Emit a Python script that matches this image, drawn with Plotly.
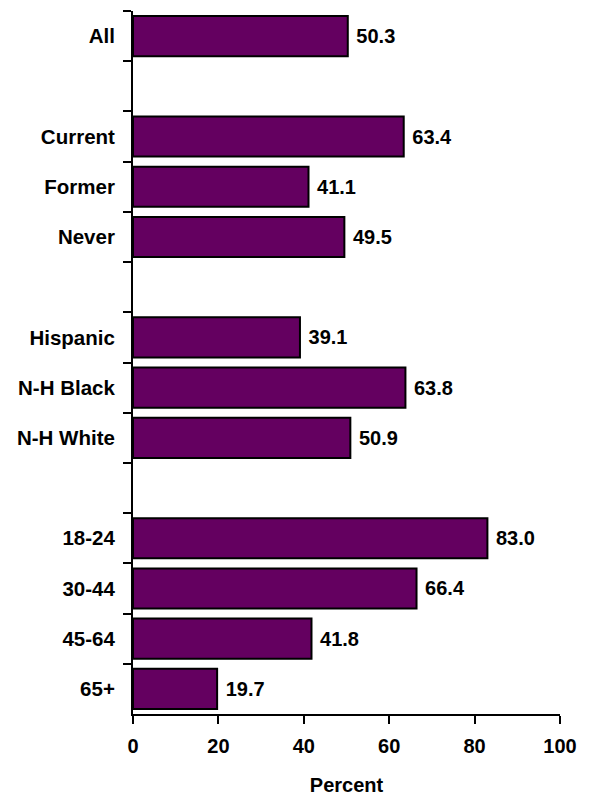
import plotly.graph_objects as go

categories = ["All", " ", "Current", "Former", "Never", "  ", "Hispanic", "N-H Black",
              "N-H White", "   ", "18-24", "30-44", "45-64", "65+"]
values = [50.3, None, 63.4, 41.1, 49.5, None, 39.1, 63.8, 50.9, None, 83.0, 66.4, 41.8, 19.7]
labels = [f"\u00a0{v:.1f}" if v is not None else "" for v in values]
x_ticks = [0, 20, 40, 60, 80, 100]

font_main = dict(family="Liberation Sans, Arial, sans-serif", size=20, color="black", weight="bold")
font_y = dict(font_main, size=20.5)

fig = go.Figure(go.Bar(
    x=values, y=categories, orientation="h",
    marker=dict(color="#640060", line=dict(color="black", width=2)),
    text=labels, textposition="outside", cliponaxis=False,
    textfont=font_main,
))

# page body has an 8px margin, so the figure is 8px smaller and margins compensate
fig.update_layout(
    width=581, height=788,
    margin=dict(l=125, r=29, t=3, b=82, autoexpand=False),
    plot_bgcolor="white", paper_bgcolor="white",
    bargap=0.2, showlegend=False,
    font=font_main,
)
fig.update_xaxes(
    range=[0, 100], tickvals=x_ticks, ticktext=[str(t) for t in x_ticks],
    ticks="outside", ticklen=8, tickwidth=2, tickcolor="black",
    showline=True, linewidth=2, linecolor="black", showgrid=False, zeroline=False,
    ticklabelstandoff=5, automargin=False,
    title=dict(text="Percent", standoff=30, font=font_main),
)
fig.update_yaxes(
    type="category", categoryorder="array", categoryarray=categories,
    autorange="reversed", tickson="boundaries",
    ticks="outside", ticklen=8, tickwidth=2, tickcolor="black",
    showline=True, linewidth=2, linecolor="black", showgrid=False, zeroline=False,
    ticklabelstandoff=12, automargin=False, tickfont=font_y,
)

fig.write_html("out.html")
